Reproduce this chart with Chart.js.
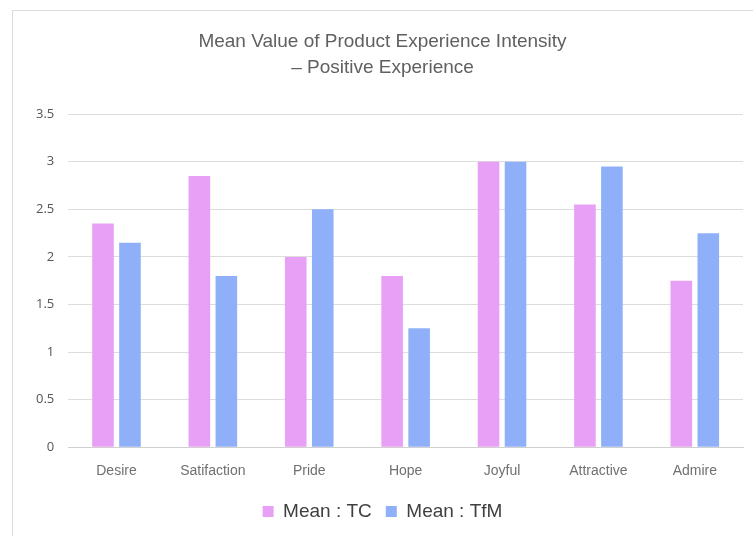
<!DOCTYPE html>
<html>
<head>
<meta charset="utf-8">
<script src="https://cdn.jsdelivr.net/npm/chart.js@4/dist/chart.umd.min.js"></script>
<style>
  html, body { margin: 0; padding: 0; background: #fff; }
  #wrap { position: relative; width: 753px; height: 536px; overflow: hidden; }
  #frame { position: absolute; left: 12px; top: 10px; width: 800px; height: 600px; border: 1px solid #dcdcdc; box-sizing: border-box; }
  canvas { position: absolute; left: 0; top: 0; }
</style>
</head>
<body>
<div id="wrap">
  <div id="frame"></div>
  <canvas id="chart" width="753" height="536"></canvas>
</div>
<script>
const categories = ['Desire', 'Satifaction', 'Pride', 'Hope', 'Joyful', 'Attractive', 'Admire'];
const meanTC  = [2.35, 2.85, 2.0, 1.8, 3.0, 2.55, 1.75];
const meanTfM = [2.15, 1.8, 2.5, 1.25, 3.0, 2.95, 2.25];
const yTickLabels = ['0', '0.5', '1', '1.5', '2', '2.5', '3', '3.5'];
const titleLines = ['Mean Value of Product Experience Intensity', '\u2013 Positive Experience'];

const ctx = document.getElementById('chart').getContext('2d');
new Chart(ctx, {
  type: 'bar',
  data: {
    labels: categories,
    datasets: [
      { label: 'Mean : TC', data: meanTC, backgroundColor: '#e8a0f6' },
      { label: 'Mean : TfM', data: meanTfM, backgroundColor: '#8fb0f8' }
    ]
  },
  options: {
    responsive: false,
    animation: false,
    devicePixelRatio: 1,
    layout: { padding: { left: 22, right: 10, top: 28, bottom: 5 } },
    datasets: { bar: { categoryPercentage: 0.56, barPercentage: 0.8 } },
    plugins: {
      title: {
        display: true,
        text: titleLines,
        color: '#606060',
        font: { family: 'Liberation Sans', size: 19, weight: 'normal', lineHeight: 1.4 },
        padding: { top: 0, bottom: 33 }
      },
      legend: {
        position: 'bottom',
        labels: {
          color: '#404040',
          font: { family: 'Liberation Sans', size: 19 },
          boxWidth: 11,
          boxHeight: 11,
          padding: 14
        }
      },
      tooltip: { enabled: false }
    },
    scales: {
      x: {
        grid: { display: false },
        border: { color: '#d0d0d0' },
        ticks: { color: '#707070', font: { family: 'Liberation Sans', size: 14 }, padding: 8 }
      },
      y: {
        min: 0,
        max: 3.5,
        ticks: {
          stepSize: 0.5,
          color: '#555',
          font: { family: 'Open Sans', size: 13 },
          padding: 14,
          callback: (v, i) => yTickLabels[i]
        },
        grid: { color: '#dcdcdc', drawTicks: false },
        border: { display: false }
      }
    }
  }
});
</script>
</body>
</html>
